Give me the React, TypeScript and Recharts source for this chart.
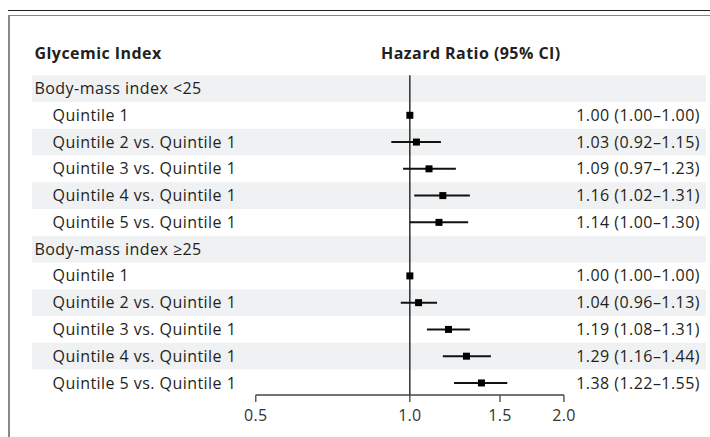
import React from 'react';
import { ScatterChart, Scatter, XAxis, YAxis, ReferenceArea, ReferenceLine, ErrorBar } from 'recharts';

const rowLabels = [
  'Body-mass index <25',
  'Quintile 1',
  'Quintile 2 vs. Quintile 1',
  'Quintile 3 vs. Quintile 1',
  'Quintile 4 vs. Quintile 1',
  'Quintile 5 vs. Quintile 1',
  'Body-mass index \u226525',
  'Quintile 1',
  'Quintile 2 vs. Quintile 1',
  'Quintile 3 vs. Quintile 1',
  'Quintile 4 vs. Quintile 1',
  'Quintile 5 vs. Quintile 1',
];
const isGroupRow = [true, false, false, false, false, false, true, false, false, false, false, false];
const hrValues = [null, 1.0, 1.03, 1.09, 1.16, 1.14, null, 1.0, 1.04, 1.19, 1.29, 1.38];
const ciLow = [null, 1.0, 0.92, 0.97, 1.02, 1.0, null, 1.0, 0.96, 1.08, 1.16, 1.22];
const ciHigh = [null, 1.0, 1.15, 1.23, 1.31, 1.3, null, 1.0, 1.13, 1.31, 1.44, 1.55];
const shadedRows = [0, 2, 4, 6, 8, 10];
const xTicks = [0.5, 1.0, 1.5, 2.0];
const headerLeft = 'Glycemic Index';
const headerRight = 'Hazard Ratio (95% CI)';

const HEADER_ROW = -1.33;
const Y_DOMAIN: [number, number] = [-2, 11.45];
const X_DOMAIN: [number, number] = [0.1827, 3.79];
const FONT = "'Open Sans', sans-serif";
const TEXT = '#231f20';
const FS = 16;
const LS = 0.45;

const data = hrValues
  .map((hr, i) =>
    hr == null
      ? null
      : { row: i, hr, err: [hr - (ciLow[i] as number), (ciHigh[i] as number) - hr] }
  )
  .filter(Boolean) as { row: number; hr: number; err: number[] }[];

const fmt = (v: number) => v.toFixed(2);

const renderLeftTick = (props: any) => {
  const { x, y, payload } = props;
  const v = payload.value;
  const common = { fontFamily: FONT, fontSize: FS, letterSpacing: LS, fill: TEXT, dy: '0.35em' } as any;
  if (Math.abs(v - HEADER_ROW) < 0.01) {
    return (
      <g key={`lt-h`}>
        <text x={x} y={y} {...common} fontWeight={700} textAnchor="start">{headerLeft}</text>
        <text x={381} y={y} {...common} fontWeight={700} textAnchor="start">{headerRight}</text>
      </g>
    );
  }
  const i = Math.round(v);
  return (
    <text key={`lt-${i}`} x={x + (isGroupRow[i] ? 0 : 18)} y={y} {...common} textAnchor="start">
      {rowLabels[i]}
    </text>
  );
};

const renderRightTick = (props: any) => {
  const { x, y, payload } = props;
  const i = Math.round(payload.value);
  if (hrValues[i] == null) return <g key={`rt-${i}`} />;
  return (
    <text key={`rt-${i}`} x={x} y={y} dy="0.35em" fontFamily={FONT} fontSize={FS} letterSpacing={LS} fill={TEXT} textAnchor="end">
      {`${fmt(hrValues[i] as number)} (${fmt(ciLow[i] as number)}\u2013${fmt(ciHigh[i] as number)})`}
    </text>
  );
};

const renderXTick = (props: any) => {
  const { x, y, payload } = props;
  return (
    <text key={`xt-${payload.value}`} x={x} y={y} dy="0.71em" fontFamily={FONT} fontSize={FS} letterSpacing={0.3} fill="#333" textAnchor="middle">
      {Number(payload.value).toFixed(1)}
    </text>
  );
};

const Square = (props: any) => {
  const { cx, cy } = props;
  return <rect x={cx - 3.5} y={cy - 3.5} width={7} height={7} fill="#000" />;
};

const leftTicks = [HEADER_ROW, ...rowLabels.map((_, i) => i)];
const rightTicks = rowLabels.map((_, i) => i);

export default function App() {
  return (
    <div style={{ position: 'absolute', left: 0, top: 0, width: 710, height: 437, background: '#fff' }}>
      <div style={{ position: 'absolute', left: 8, top: 9.5, width: 702, height: 0, borderTop: '1.5px solid #222' }} />
      <div
        style={{
          position: 'absolute',
          left: 8,
          top: 15,
          width: 700,
          height: 422,
          borderTop: '1.5px solid #888',
          borderLeft: '2px solid #888',
        }}
      />
      <div style={{ position: 'absolute', left: 0, top: 0 }}>
        <ScatterChart width={710} height={437} margin={{ top: 35, right: 4, bottom: 12, left: 32 }}>
          {shadedRows.map((r) => (
            <ReferenceArea
              key={r}
              yAxisId="left"
              y1={r - 0.5}
              y2={r + 0.5}
              fill="#f0f1f3"
              fillOpacity={1}
              stroke="none"
              ifOverflow="visible"
            />
          ))}
          <XAxis
            type="number"
            dataKey="hr"
            scale="log"
            domain={X_DOMAIN}
            allowDataOverflow
            ticks={xTicks}
            interval={0}
            axisLine={false}
            tickSize={7}
            tickMargin={8}
            tickLine={{ stroke: '#444', strokeWidth: 1.3 }}
            tick={renderXTick}
            height={30}
          />
          <YAxis
            yAxisId="left"
            type="number"
            dataKey="row"
            domain={Y_DOMAIN}
            allowDataOverflow
            reversed
            orientation="left"
            mirror
            width={1}
            ticks={leftTicks}
            interval={0}
            axisLine={false}
            tickLine={false}
            tickSize={0}
            tickMargin={2.5}
            tick={renderLeftTick}
          />
          <YAxis
            yAxisId="right"
            type="number"
            domain={Y_DOMAIN}
            allowDataOverflow
            reversed
            orientation="right"
            mirror
            width={1}
            ticks={rightTicks}
            interval={0}
            axisLine={false}
            tickLine={false}
            tickSize={0}
            tickMargin={6}
            tick={renderRightTick}
          />
          <ReferenceLine
            yAxisId="left"
            segment={[
              { x: 1, y: -0.5 },
              { x: 1, y: Y_DOMAIN[1] },
            ]}
            stroke="#111"
            strokeWidth={1.3}
            ifOverflow="visible"
          />
          <ReferenceLine
            yAxisId="left"
            segment={[
              { x: xTicks[0], y: Y_DOMAIN[1] },
              { x: xTicks[xTicks.length - 1], y: Y_DOMAIN[1] },
            ]}
            stroke="#444"
            strokeWidth={1.3}
            ifOverflow="visible"
          />
          <Scatter yAxisId="left" data={data} shape={<Square />} isAnimationActive={false}>
            <ErrorBar dataKey="err" direction="x" width={0} stroke="#111" strokeWidth={2} isAnimationActive={false} />
          </Scatter>
        </ScatterChart>
      </div>
    </div>
  );
}
